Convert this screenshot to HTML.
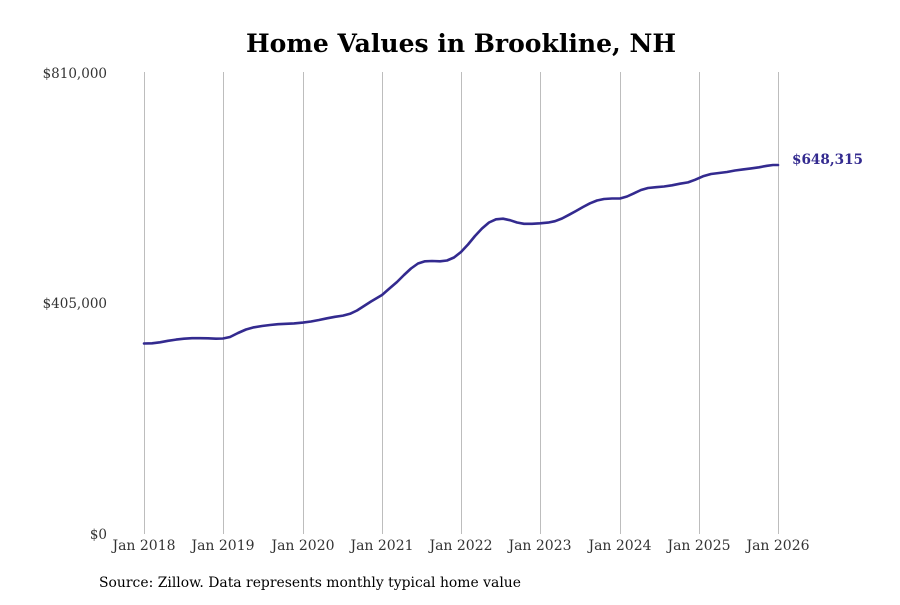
<!DOCTYPE html>
<html><head><meta charset="utf-8"><style>
body{margin:0;background:#fff;}
svg text{font-family:"DejaVu Serif",serif;}
</style></head><body>
<svg width="900" height="600" viewBox="0 0 900 600" xmlns="http://www.w3.org/2000/svg">
<rect width="900" height="600" fill="#fff"/>
<text x="461" y="52" text-anchor="middle" font-size="25" font-weight="bold" fill="#000" textLength="430" lengthAdjust="spacingAndGlyphs">Home Values in Brookline, NH</text>
<g stroke="#bdbdbd" stroke-width="1">
<line x1="144.5" y1="72" x2="144.5" y2="534"/>
<line x1="223.5" y1="72" x2="223.5" y2="534"/>
<line x1="303.5" y1="72" x2="303.5" y2="534"/>
<line x1="382.5" y1="72" x2="382.5" y2="534"/>
<line x1="461.5" y1="72" x2="461.5" y2="534"/>
<line x1="540.5" y1="72" x2="540.5" y2="534"/>
<line x1="620.5" y1="72" x2="620.5" y2="534"/>
<line x1="699.5" y1="72" x2="699.5" y2="534"/>
<line x1="778.5" y1="72" x2="778.5" y2="534"/>
</g>
<g font-size="13.5" fill="#333" text-anchor="end">
<text x="107" y="78">$810,000</text>
<text x="107" y="308">$405,000</text>
<text x="107" y="539">$0</text>
</g>
<g font-size="14" fill="#333" text-anchor="middle">
<text x="144" y="550">Jan 2018</text>
<text x="223" y="550">Jan 2019</text>
<text x="303" y="550">Jan 2020</text>
<text x="382" y="550">Jan 2021</text>
<text x="461" y="550">Jan 2022</text>
<text x="540" y="550">Jan 2023</text>
<text x="620" y="550">Jan 2024</text>
<text x="699" y="550">Jan 2025</text>
<text x="778" y="550">Jan 2026</text>
</g>
<path fill="none" stroke="#332a8f" stroke-width="2.6" stroke-linejoin="round" stroke-linecap="round"
d="M144,343.5 L152,343.3 L160,342.3 L168,340.8 L176,339.6 L184,338.7 L192,338.2 L200,338.2 L208,338.3 L216,338.7 L223,338.5 L230,337 L238,333 L246,329.5 L254,327.3 L262,326 L270,325 L278,324.2 L286,323.8 L294,323.4 L303,322.6 L311,321.5 L319,320 L327,318.3 L335,316.8 L343,315.6 L350,313.8 L357,310.5 L364,306 L371,301.5 L382,295 L390,288 L397,282 L404,275 L411,268.5 L418,263.5 L425,261.3 L432,261 L440,261.3 L447,260.5 L454,257.5 L461,252 L468,244.5 L475,236 L482,228.5 L489,222.5 L496,219.3 L503,218.7 L510,220.2 L517,222.5 L524,223.8 L532,223.8 L540,223.3 L548,222.6 L555,221.2 L562,218.5 L569,214.8 L576,211 L583,207 L590,203.3 L597,200.5 L604,199 L612,198.5 L620,198.5 L627,196.5 L634,193.3 L641,190 L648,188 L656,187.2 L664,186.5 L672,185.3 L680,183.7 L688,182.4 L695,179.8 L703,176.3 L711,174 L719,173 L727,172 L735,170.5 L743,169.4 L751,168.4 L759,167.3 L767,165.8 L773,165 L778,165"/>
<text x="792" y="164" font-size="13.5" font-weight="bold" fill="#332a8f" textLength="71" lengthAdjust="spacingAndGlyphs">$648,315</text>
<text x="99" y="587" font-size="13.5" fill="#000" textLength="422" lengthAdjust="spacingAndGlyphs">Source: Zillow. Data represents monthly typical home value</text>
</svg>
</body></html>
